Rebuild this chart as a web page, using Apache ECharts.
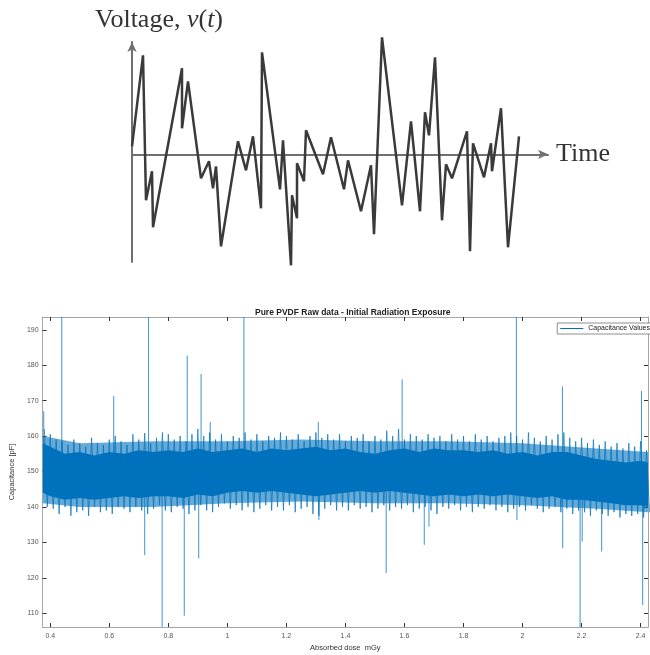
<!DOCTYPE html>
<html>
<head>
<meta charset="utf-8">
<script src="https://cdn.jsdelivr.net/npm/echarts@6/dist/echarts.min.js"></script>
<style>
  html, body { margin: 0; padding: 0; background: #fff; }
  #chart { width: 650px; height: 655px; }
</style>
</head>
<body>
<div id="chart"></div>
<script>
// top sketch: voltage noise v(t), time / voltage
const pulseTime = [0, 11, 14, 20, 21, 50, 50, 56, 69, 77, 81, 84, 89, 106, 114, 121, 129, 130,
  148, 151, 159, 160, 165, 165, 172, 174, 191, 199, 212, 216, 229, 239, 242, 250, 270, 279,
  288, 293, 297, 303, 310, 314, 320, 335, 338, 341, 352, 359, 360, 369, 376, 387]
const pulseVolt = [8, 99, -46, -17, -73, 86, 26, 73, -24, -7, -34, -12, -92, 13, -16, 18, -54, 102,
  -35, 14, -111, -41, -64, -9, -27, 24, -20, 17, -35, -6, -57, -11, -80, 117, -51, 33,
  -57, 42, 19, 97, -66, -10, -24, 23, -97, 11, -23, 11, -17, 46, -93, 18]

// bottom chart: capacitance vs absorbed dose
const xTicks = [0.4, 0.6, 0.8, 1, 1.2, 1.4, 1.6, 1.8, 2, 2.2, 2.4]
const yTicks = [110, 120, 130, 140, 150, 160, 170, 180, 190]

// dense (dark) core of the signal
const coreDose = [0.375, 0.4, 0.45, 0.5, 0.55, 0.6, 0.65, 0.7, 0.75, 0.8, 0.85, 0.9, 0.95,
  1.0, 1.05, 1.1, 1.15, 1.2, 1.25, 1.3, 1.35, 1.4, 1.45, 1.5, 1.55, 1.6, 1.65, 1.7, 1.75,
  1.8, 1.85, 1.9, 1.95, 2.0, 2.05, 2.1, 2.15, 2.2, 2.25, 2.3, 2.35, 2.4, 2.425]
const coreTop = [158, 157, 155, 155.5, 154.5, 155.5, 155, 156, 155.5, 156, 155.5, 156.5, 155.5,
  156, 156.5, 155.5, 156.5, 156, 156.5, 157, 156, 156.5, 155.5, 155, 156, 156.5, 155.5, 156.5, 156,
  156, 155.5, 156, 155, 155.5, 154.5, 155.5, 155.5, 154.5, 153.5, 153, 152.5, 153, 152.5]
const coreBottom = [144, 143, 142, 142.5, 142, 142.5, 143, 142.5, 143, 143, 142.5, 143.5, 143,
  144, 144.5, 144, 144.5, 144, 143.5, 143, 143.5, 144, 144.5, 144, 144.5, 144, 143.5, 143, 143.5,
  143, 143.5, 143, 143.5, 143, 142.5, 143, 142, 142, 141.5, 141, 140.5, 140.5, 140]

// lighter haze where the noise traces thin out
const hazeDose = [0.375, 0.5, 0.75, 1.0, 1.25, 1.5, 1.75, 2.0, 2.25, 2.425]
const hazeTop = [160, 158, 158.5, 158.5, 159, 158.5, 158.5, 158, 156.5, 155.5]
const hazeBottom = [141, 140, 140, 141, 141.5, 141, 141, 140.5, 139.5, 138.5]

// noise fringe, sampled every 0.02 mGy from 0.38
const bandStart = 0.38
const bandStep = 0.02
const fringeTop = [
  162, 160.5, 159, 158.5, 157.5, 159, 158, 157, 159.5, 158,
  157.5, 159, 160, 158.5, 157.5, 160.5, 159, 160.8, 158, 159.5,
  161, 160.5, 159, 160, 158.5, 160.5, 162, 160, 161, 159,
  160.5, 158.5, 160, 159.5, 161, 159, 160.5, 158.5, 160, 159.5,
  161, 160, 159, 160.5, 158.5, 160, 161, 159.5, 160.5, 159,
  160.5, 158.5, 160, 159.5, 160.5, 158.5, 160, 159, 161.5, 160,
  162, 159, 160.5, 160, 159, 160.5, 159.5, 160, 158.5, 160.5,
  159, 160, 158.5, 160.5, 159, 160, 158.5, 159.5, 160, 161,
  160, 159, 161, 159.5, 158.5, 160, 159, 160.5, 161, 159.5,
  158.5, 159.5, 158, 159, 157.5, 158.5, 157, 158, 156.5, 158,
  157, 158.5, 156
]
const fringeBottom = [
  140, 139.5, 138, 140, 137.5, 138.5, 139, 137.5, 140, 138.5,
  139, 138, 140, 139.5, 138.5, 140, 139, 138, 139.5, 140.5,
  139, 138.5, 140, 139.5, 138, 139, 140.5, 139, 138.5, 140,
  141, 139.5, 140.5, 139, 140, 138.5, 139.5, 140.5, 139, 140,
  139, 140.5, 138.5, 139.5, 140, 138, 137.5, 139.5, 140.5, 139,
  140, 139, 140.5, 139.5, 140, 138.5, 139.5, 140.5, 139, 140,
  139.5, 140.5, 138.5, 139.5, 140, 139, 138, 140, 139.5, 140.5,
  139, 140, 138.5, 140, 139.5, 140.5, 139, 140, 138.5, 139.5,
  140, 139, 140.5, 139.5, 138.5, 139.5, 140, 138.5, 139.5, 138,
  139, 138.5, 137.5, 139, 138, 137.5, 138.5, 137, 138, 137.5,
  138, 137, 138.5
]

// isolated spikes (values past the axis run off the plot)
const spikeDose = [0.378, 0.439, 0.615, 0.733, 0.864, 0.911, 0.942, 1.056, 1.308, 1.592, 1.979, 2.135, 2.403,
  0.72, 0.779, 0.854, 0.903, 1.31, 1.538, 1.667, 1.683, 1.981, 2.136, 2.195, 2.202, 2.268, 2.407]
const spikeValue = [167, 200, 171.3, 200, 182.7, 177.5, 164, 200, 164, 176, 200, 174, 172.7,
  126.4, 100, 109.3, 125.5, 136.3, 121.3, 129.3, 134.4, 136.3, 128.3, 100, 130.2, 127.4, 112.3]

const Y_MIN = 106.1
const Y_MAX = 193.6
const BLUE = '#0072BD'
const SANS = 'Liberation Sans'
const SERIF = 'Liberation Serif'

const bandData = []
fringeTop.forEach((v, i) => {
  const x = bandStart + i * bandStep
  bandData.push([x, v])
  bandData.push([x + bandStep / 2, fringeBottom[i]])
})

// polygon between an upper and a lower edge, through the axis scales
const bandPolygon = (dose, upper, lower, fill) => (params, api) => {
  const top = dose.map((d, i) => api.coord([d, upper[i]]))
  const bot = dose.map((d, i) => api.coord([d, lower[i]])).reverse()
  return { type: 'polygon', shape: { points: top.concat(bot) }, style: { fill } }
}

const chart = echarts.init(document.getElementById('chart'), null, { renderer: 'canvas' })

const boxAxis = {
  axisLine: { show: true, onZero: false, lineStyle: { color: '#a6a6a6', width: 1 } },
  splitLine: { show: false },
}

const option = {
  animation: false,
  title: [
    {
      text: '{a|Voltage, }{b|v}{a|(}{b|t}{a|)}',
      left: 90,
      top: 2,
      textStyle: {
        rich: {
          a: { fontFamily: SERIF, fontSize: 26, fontWeight: 'normal', color: '#333' },
          b: { fontFamily: SERIF, fontSize: 26, fontWeight: 'normal', fontStyle: 'italic', color: '#333' },
        },
      },
    },
    {
      text: 'Pure PVDF Raw data - Initial Radiation Exposure',
      left: 250,
      top: 303,
      textStyle: { fontFamily: SANS, fontSize: 8.5, fontWeight: 'bold', color: '#222' },
    },
  ],
  legend: {
    data: ['Capacitance Values'],
    right: -3,
    top: 323,
    icon: 'rect',
    itemWidth: 23,
    itemHeight: 1,
    padding: [2, 3],
    backgroundColor: '#fff',
    borderColor: '#444',
    borderWidth: 0.6,
    textStyle: { fontFamily: SANS, fontSize: 7, color: '#222' },
  },
  grid: [
    { left: 132, top: 42, width: 416, height: 220 },
    { left: 41, right: 2, top: 317, bottom: 28 },
  ],
  xAxis: [
    {
      type: 'value',
      gridIndex: 0,
      min: 0,
      max: 416,
      name: 'Time',
      nameLocation: 'end',
      nameGap: 8,
      nameTextStyle: { fontFamily: SERIF, fontSize: 26, color: '#333', verticalAlign: 'middle', padding: [4, 0, 0, 0] },
      axisLine: { onZero: true, symbol: ['none', 'arrow'], symbolSize: [7, 10], lineStyle: { color: '#707070', width: 2 } },
      axisTick: { show: false },
      axisLabel: { show: false },
      splitLine: { show: false },
    },
    {
      type: 'value',
      gridIndex: 1,
      min: 0.374,
      max: 2.425,
      name: 'Absorbed dose  mGy',
      nameLocation: 'middle',
      nameGap: 17,
      nameTextStyle: { fontFamily: SANS, fontSize: 7.5, color: '#333' },
      ...boxAxis,
      axisTick: { inside: true, length: 4, customValues: xTicks, lineStyle: { color: '#333' } },
      axisLabel: { customValues: xTicks, fontFamily: SANS, fontSize: 7, color: '#555', margin: 6 },
    },
    {
      type: 'value',
      gridIndex: 1,
      position: 'top',
      min: 0.374,
      max: 2.425,
      ...boxAxis,
      axisTick: { inside: true, length: 4, customValues: xTicks, lineStyle: { color: '#333' } },
      axisLabel: { show: false },
    },
  ],
  yAxis: [
    {
      type: 'value',
      gridIndex: 0,
      min: -107.7,
      max: 112.3,
      axisLine: { show: true, onZero: false, symbol: ['none', 'arrow'], symbolSize: [7, 10], lineStyle: { color: '#707070', width: 2 } },
      axisTick: { show: false },
      axisLabel: { show: false },
      splitLine: { show: false },
    },
    {
      type: 'value',
      gridIndex: 1,
      min: Y_MIN,
      max: Y_MAX,
      name: 'Capacitance [pF]',
      nameLocation: 'middle',
      nameGap: 16,
      nameTextStyle: { fontFamily: SANS, fontSize: 7.5, color: '#333' },
      ...boxAxis,
      axisTick: { inside: true, length: 4, customValues: yTicks, lineStyle: { color: '#333' } },
      axisLabel: { customValues: yTicks, fontFamily: SANS, fontSize: 7, color: '#555', margin: 4 },
    },
    {
      type: 'value',
      gridIndex: 1,
      position: 'right',
      min: Y_MIN,
      max: Y_MAX,
      ...boxAxis,
      axisTick: { inside: true, length: 4, customValues: yTicks, lineStyle: { color: '#333' } },
      axisLabel: { show: false },
    },
  ],
  series: [
    {
      name: 'v(t)',
      type: 'line',
      xAxisIndex: 0,
      yAxisIndex: 0,
      data: pulseTime.map((t, i) => [t, pulseVolt[i]]),
      symbol: 'none',
      clip: false,
      lineStyle: { color: '#3a3a3a', width: 2.5 },
      z: 5,
    },
    {
      name: 'haze',
      type: 'custom',
      xAxisIndex: 1,
      yAxisIndex: 1,
      data: [[hazeDose[0], hazeTop[0]]],
      encode: { x: 0, y: 1 },
      renderItem: bandPolygon(hazeDose, hazeTop, hazeBottom, 'rgba(0,114,189,0.6)'),
      silent: true,
      z: 1,
    },
    {
      name: 'core',
      type: 'custom',
      xAxisIndex: 1,
      yAxisIndex: 1,
      data: [[coreDose[0], coreTop[0]]],
      encode: { x: 0, y: 1 },
      renderItem: bandPolygon(coreDose, coreTop, coreBottom, BLUE),
      silent: true,
      z: 2,
    },
    {
      name: 'Capacitance Values',
      type: 'line',
      xAxisIndex: 1,
      yAxisIndex: 1,
      data: bandData,
      symbol: 'none',
      color: BLUE,
      lineStyle: { color: BLUE, width: 0.9, opacity: 0.8 },
      z: 3,
    },
    {
      name: 'spikes',
      type: 'custom',
      xAxisIndex: 1,
      yAxisIndex: 1,
      data: spikeDose.map((d, i) => [d, spikeValue[i]]),
      encode: { x: 0, y: 1 },
      renderItem: (params, api) => {
        const d = api.value(0)
        const v = Math.min(Y_MAX, Math.max(Y_MIN, api.value(1)))
        const p0 = api.coord([d, 149])
        const p1 = api.coord([d, v])
        return {
          type: 'line',
          shape: { x1: p0[0], y1: p0[1], x2: p1[0], y2: p1[1] },
          style: { stroke: BLUE, lineWidth: 1, opacity: 0.75 },
        }
      },
      silent: true,
      z: 4,
    },
  ],
}

chart.setOption(option)
</script>
</body>
</html>
